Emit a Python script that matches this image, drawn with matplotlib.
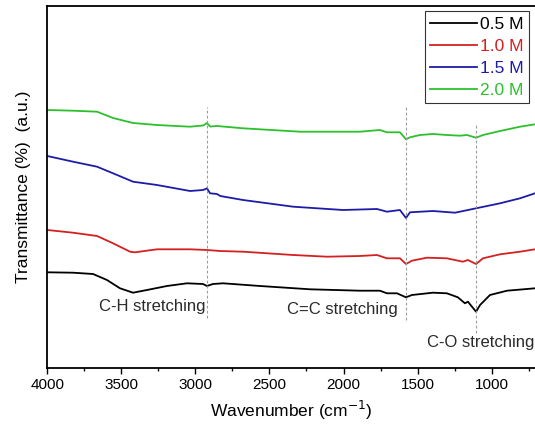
import matplotlib
matplotlib.use("Agg")
import matplotlib.pyplot as plt
from matplotlib.ticker import MultipleLocator

plt.rcParams["font.family"] = ["Liberation Sans", "DejaVu Sans"]

# FTIR spectra (y in arbitrary units, stacked)
wn_05 = [4000, 3826, 3691, 3597, 3509, 3421, 3327, 3192, 3057, 2949, 2922, 2881,
         2813, 2564, 2226, 1889, 1754, 1707, 1639, 1578, 1538, 1396, 1302, 1228,
         1180, 1160, 1105, 1078, 1011, 896, 761, 707]
tr_05 = [95.7, 95.3, 94, 88, 79.7, 75.3, 78, 82, 84.7, 84, 82, 84,
         84.7, 82, 78.7, 77.3, 77.3, 74.7, 74.7, 70.7, 73, 75.3, 74.7, 70.7,
         64.7, 66.3, 56.3, 63, 73, 77.3, 79, 79.7]

wn_10 = [4000, 3826, 3664, 3556, 3441, 3408, 3259, 3036, 2922, 2834, 2678, 2340,
         2111, 1889, 1774, 1707, 1619, 1578, 1538, 1437, 1302, 1194, 1160, 1105,
         1058, 943, 808, 707]
tr_10 = [138, 135.3, 132, 124.7, 116.3, 115.7, 118.7, 118.7, 118, 117, 116.3, 113,
         111.3, 112, 113, 109.7, 109.7, 104, 107.3, 110.3, 109.7, 106.3, 108, 104,
         109.7, 113.7, 116.3, 118.7]

wn_15 = [4000, 3826, 3664, 3556, 3421, 3259, 3036, 2948, 2922, 2901, 2854, 2832,
         2678, 2340, 2003, 1774, 1707, 1619, 1578, 1551, 1396, 1247, 1214, 1105,
         943, 808, 707]
tr_15 = [212, 206.3, 201.3, 194.7, 186.3, 183, 177, 178, 179.7, 174.7, 174, 172,
         168, 161.3, 158, 159, 156.3, 158, 150, 155.7, 157, 155.3, 156.3, 159.7,
         164.7, 169.7, 174.7]

wn_20 = [4000, 3826, 3664, 3556, 3421, 3259, 3036, 2948, 2922, 2901, 2854, 2678,
         2294, 1889, 1754, 1707, 1619, 1578, 1551, 1484, 1396, 1302, 1214, 1167,
         1105, 1058, 943, 808, 707]
tr_20 = [258, 257.3, 256.3, 250, 245, 243, 241.3, 242.5, 245, 241.5, 242, 239.7,
         236.3, 236.3, 238, 235.7, 235.7, 228.7, 230.7, 233, 234, 233, 232.3, 233,
         230.3, 233, 237, 241.3, 243.7]

series = [("0.5 M", wn_05, tr_05, "black"),
          ("1.0 M", wn_10, tr_10, "#d42020"),
          ("1.5 M", wn_15, tr_15, "#1c1ca8"),
          ("2.0 M", wn_20, tr_20, "#2cc02c")]

# band markers: position, dashed line span, label and label anchor
bands = [2922, 1578, 1105]
band_spans = [(50, 261), (48, 261), (35, 245)]
band_labels = ["C-H stretching", "C=C stretching", "C-O stretching"]
label_pos = [(3290, 61), (2010, 58), (712, 25)]
label_ha = ["center", "center", "right"]

fig = plt.figure(figsize=(5.35, 4.29), dpi=100)
ax = fig.add_axes([0.0884, 0.1422, 0.9116, 0.8438])

for name, wn, tr, col in series:
    ax.plot(wn, tr, color=col, lw=1.3, label=name)

for b, (y0, y1) in zip(bands, band_spans):
    ax.vlines(b, y0, y1, colors="#9a9a9a", lw=0.8, linestyles=(0, (2.5, 2)))

for lab, (x, y), ha in zip(band_labels, label_pos, label_ha):
    ax.text(x, y, lab, fontsize=12, color="#2a2a2a", ha=ha, va="center")

ax.set_xlim(4000, 707)
ax.set_ylim(0, 362)
ax.xaxis.set_major_locator(MultipleLocator(500))
ax.xaxis.set_minor_locator(MultipleLocator(250))
ax.tick_params(axis="x", direction="out", length=4, width=1, labelsize=11, pad=3)
ax.tick_params(axis="x", which="minor", direction="out", length=2.5, width=1)
ax.set_yticks([])
ax.spines["right"].set_visible(False)
for s in ["left", "top", "bottom"]:
    ax.spines[s].set_linewidth(1.3)

ax.set_xlabel("Wavenumber (cm$^{-1}$)", fontsize=12.5, labelpad=5)
ax.set_ylabel("Transmittance (%)  (a.u.)", fontsize=12.5, labelpad=12)

leg = ax.legend(loc="upper right", bbox_to_anchor=(0.988, 0.985), fontsize=12.5,
                frameon=True, fancybox=False, handlelength=2.7, handletextpad=0.2,
                borderpad=0.3, labelspacing=0.4, borderaxespad=0)
leg.get_frame().set_edgecolor("black")
leg.get_frame().set_linewidth(0.8)
for txt, (_, _, _, col) in zip(leg.get_texts(), series):
    txt.set_color(col)

fig.savefig("out.png", dpi=100)
